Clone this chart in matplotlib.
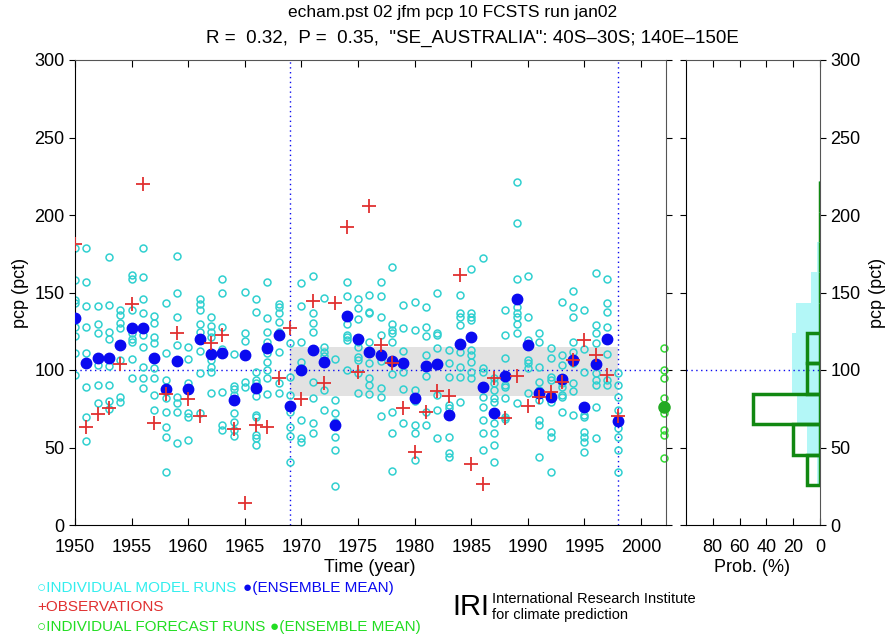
import matplotlib
matplotlib.use("Agg")
import matplotlib.pyplot as plt

plt.rcParams['font.family'] = ['Liberation Sans', 'DejaVu Sans']

# hindcast years
years = list(range(1950, 1999))

# individual model runs per year (pct of normal)
model_runs = [
    [179, 158, 145, 143, 128, 122, 111, 97],
    [178.5, 157, 141.5, 128, 110.7, 88.8, 70, 54.4],
    [141, 130, 124, 103, 90.3, 78.5],
    [173, 142, 124.7, 120, 102.5, 90.3, 80, 75],
    [138.7, 135.5, 130.5, 127, 106.4, 82.8, 79.5],
    [161.3, 159, 138.7, 124, 120, 118, 107, 94.6],
    [178.5, 160, 145.6, 136.5, 122.5, 115, 102, 94.6, 88.1],
    [134.8, 130.5, 121.5, 117.6, 101, 94.6, 83.8, 74.2],
    [143, 111.2, 93.5, 81.7, 73.1, 63.4, 56.5, 34.4],
    [173.5, 149.4, 134.4, 115.9, 82.8, 78.5, 73.1, 52.6],
    [114.6, 107, 91.4, 72, 69.9, 54.8],
    [145.6, 142.6, 138.7, 130, 124.7, 119.3, 112, 97.8, 72],
    [134.4, 128.4, 124.7, 121.5, 106.4, 102, 99, 85],
    [159, 149.4, 128, 113.3, 86, 64.5, 61.3],
    [110.3, 89.6, 87.5, 83.8, 72, 66.6, 61.3, 57.4],
    [150.5, 123.6, 118.9, 110, 92.5, 88.8],
    [145.6, 137.2, 99, 93.5, 91.4, 83.2, 71, 70, 58, 56, 51.6],
    [157, 133.3, 124.7, 118.2, 110.7, 105.4, 100, 94.6, 84.3],
    [142.6, 140.8, 136.5, 131.2, 124.7, 111.8, 91.4, 85.3],
    [117.2, 95.7, 83.8, 73.1, 63.4, 57.4, 40.8],
    [156, 141.3, 118.2, 105.4, 101, 67.7, 56, 53.7],
    [160.6, 137, 130.5, 124.7, 92.5, 81.7, 66, 59.5],
    [146.2, 114.6, 111.8, 109, 87, 74.2],
    [107, 80.6, 72, 66.6, 57, 48.3, 25.1],
    [157, 148, 129.4, 122.5, 121, 119.3, 100],
    [145.6, 139.8, 132.9, 118, 115, 108.6, 106.4, 98, 85.3],
    [148.4, 137.6, 136.5, 117.8, 111.8, 104.3, 94.6, 90.3, 84.5],
    [157, 147.7, 134.4, 122.5, 106, 88.1, 82.3, 70.3],
    [166.6, 129.6, 125.8, 124, 118.2, 97.4, 73.1, 59.1, 35],
    [141.9, 127, 112.4, 99, 87.5, 66],
    [144, 125.8, 87.1, 80.2, 64.5, 59.1, 41.9],
    [140.4, 127.9, 121.9, 109.6, 96.1, 73.1, 64.5],
    [149.4, 124, 122.5, 113.9, 104.3, 83.8, 74.2, 55.9],
    [112.9, 104.3, 95.7, 77.4, 75.2, 57, 46.2, 43.6],
    [148.4, 136.5, 134.4, 129, 111.8, 102.1, 95.7, 79.5],
    [165.1, 136.5, 134.4, 132.2, 112.9, 109.6, 105.4, 99, 94.6],
    [172, 101, 99, 82.8, 76.3, 67.7, 59.1, 48.3],
    [94.6, 91.4, 87.1, 81.7, 79.5, 65.6, 59.1, 51.6, 40.8],
    [138.7, 122.5, 107.5, 90.3, 88.8, 81.7, 69.9, 68.2],
    [221.5, 194.6, 158.5, 140.8, 136.5, 134.4, 130, 124, 78.5],
    [160.6, 134.4, 119.3, 106.4, 104.3, 101, 85.3],
    [123.6, 118.2, 102.1, 92.5, 87.1, 80.6, 67.7, 64.5, 44],
    [113.9, 107.5, 95.7, 93.5, 82.8, 79.5, 60.2, 57, 34.4],
    [143.6, 109.6, 103.4, 91.4, 89.2, 83.8, 82.8, 73.1],
    [151.1, 140.4, 134, 118.2, 111.8, 104.3, 91.8, 86.6, 71],
    [138.7, 113.3, 99, 71, 69.9, 60.2, 57, 53.7, 47.3],
    [162.3, 129, 123.6, 117.6, 97.8, 93.5, 90.3, 75.9, 55.9],
    [159, 143, 137.2, 127.5, 110.3, 93.5, 90.3],
    [97.8, 90.3, 82.8, 74.2, 62.3, 57, 48.3, 34.4],
]

ens_mean = [133.3, 104.3, 107.5, 107.5, 116, 126.8, 126.8, 108, 87.5, 106,
            88, 120, 110.3, 110.7, 80.6, 109.6, 88.6, 113.9, 122.5, 76.7,
            100, 112.9, 104.9, 64.3, 134.8, 120.2, 111.4, 109.6, 105.8, 104.3,
            81.9, 102.5, 103.8, 70.9, 116.7, 121, 89.2, 72, 96.1, 145.6,
            116.1, 85.3, 82.8, 94, 106.4, 76.3, 103.8, 120, 67.3]

observations = [181, 63, 71.4, 75.2, 103.6, 142.6, 220, 65.6, 84.3, 124,
                81, 70.3, 117.2, 122.5, 61.7, 14.4, 64.5, 63.4, 94.6, 127,
                81, 144.7, 91.4, 143, 192, 98.9, 205.8, 116.1, 104.3, 75.7,
                47.3, 72.6, 86.6, 83.4, 161.3, 39.3, 26.2, 94.6, 68.8, 96.3,
                76.7, 82.8, 86, 92.5, 106.4, 119.3, 109.6, 96.7, 70.5]

# forecast for 2002
fcst_year = 2002
fcst_runs = [113.9, 100, 94.6, 81.7, 75.9, 72, 61.3, 58, 43]
fcst_mean = 75.9

# tercile band over the verification period
band_years = [1969, 1998]
band_lo, band_hi = 83.2, 114.8

# histograms (percent per bin)
bin_edges = [25.8, 45.4, 65.0, 84.6, 104.2, 123.8, 143.4, 163.0, 182.6, 202.2, 221.8]
hist_model = [2, 10, 17, 21, 21, 18, 7, 2, 1, 1]
hist_fcst = [10, 20, 50, 10, 10, 0, 0, 0, 0, 0]

cyan = '#30d0d0'
blue = '#0a0af0'
red = '#e03030'
green = '#33dd33'

fig = plt.figure(figsize=(8.96, 6.36), dpi=100)
ax = fig.add_axes([75 / 896, 1 - 525 / 636, (666 - 75) / 896, 465 / 636])
axh = fig.add_axes([686 / 896, 1 - 525 / 636, (820 - 686) / 896, 465 / 636])

# main panel
ax.fill_between(band_years, band_lo, band_hi, color='#e2e2e2', lw=0, zorder=0)
ax.axhline(100, color=blue, ls=(0, (1, 2.5)), lw=1, zorder=1)
for yr in band_years:
    ax.axvline(yr, color=blue, ls=(0, (1, 2.5)), lw=1, zorder=1)

for yr, runs in zip(years, model_runs):
    ax.plot([yr] * len(runs), runs, 'o', ms=5, mfc='none', mec=cyan, mew=1.1, zorder=2)
ax.plot(years, ens_mean, 'o', ms=7.5, color=blue, mec=blue, zorder=3)
ax.plot(years, observations, '+', ms=10, mew=1.3, color=red, zorder=4)

ax.plot([fcst_year] * len(fcst_runs), fcst_runs, 'o', ms=5, mfc='none', mec=green,
        mew=1.1, zorder=2, clip_on=False)
ax.plot([fcst_year], [fcst_mean], 'o', ms=8, color='#22aa22', zorder=3, clip_on=False)

ax.set_xlim(1950, 2002.2)
ax.set_ylim(0, 300)
ax.set_xticks(range(1950, 2001, 5))
ax.set_yticks(range(0, 301, 50))
ax.tick_params(axis='x', direction='in', top=True, length=5, labelsize=13, pad=10)
ax.tick_params(axis='y', direction='out', right=True, length=4, labelsize=13)
for s in ['top', 'right']:
    ax.spines[s].set_color('#555555')
ax.set_ylabel('pcp (pct)', fontsize=13, labelpad=4)
fig.text(370 / 896, 1 - 567 / 636, 'Time (year)', ha='center', va='center', fontsize=13)

# histogram panel
lows = bin_edges[:-1]
heights = [b - a for a, b in zip(bin_edges[:-1], bin_edges[1:])]
axh.barh(lows, hist_model, height=heights, align='edge', color='#b3f7f7', lw=0, zorder=1)
axh.barh(lows, hist_fcst, height=heights, align='edge', fill=False,
         edgecolor='#118811', lw=2.5, zorder=3)
axh.axhline(100, color=blue, ls=(0, (1, 2.5)), lw=1, zorder=2)
axh.set_xlim(100, 0)
axh.set_ylim(0, 300)
axh.set_xticks([80, 60, 40, 20, 0])
axh.set_yticks(range(0, 301, 50))
axh.tick_params(axis='x', direction='in', top=True, length=5, labelsize=13, pad=10)
axh.tick_params(axis='y', direction='out', left=True, right=True, labelleft=False,
                labelright=True, length=4, labelsize=13)
axh.yaxis.set_label_position('right')
axh.set_ylabel('pcp (pct)', fontsize=13, labelpad=6)
fig.text(752 / 896, 1 - 567 / 636, 'Prob. (%)', ha='center', va='center', fontsize=13)
for s in ['top', 'right']:
    axh.spines[s].set_color('#555555')

# titles
fig.text(453 / 896, 1 - 12 / 636, 'echam.pst 02 jfm pcp 10 FCSTS run jan02',
         ha='center', va='center', fontsize=12.5)
fig.text(472 / 896, 1 - 38 / 636,
         'R =  0.32,  P =  0.35,  "SE_AUSTRALIA": 40S\u201330S; 140E\u2013150E',
         ha='center', va='center', fontsize=13.5)

# legend text
leg = dict(fontsize=11, va='center')
fig.text(37 / 896, 1 - 588 / 636, '\u25cbINDIVIDUAL MODEL RUNS', color='#33eeee', **leg)
fig.text(243 / 896, 1 - 588 / 636, '\u25cf(ENSEMBLE MEAN)', color=blue, **leg)
fig.text(37 / 896, 1 - 607 / 636, '+OBSERVATIONS', color=red, **leg)
fig.text(37 / 896, 1 - 627 / 636, '\u25cbINDIVIDUAL FORECAST RUNS', color='#22dd22', **leg)
fig.text(270 / 896, 1 - 627 / 636, '\u25cf(ENSEMBLE MEAN)', color='#22dd22', **leg)

fig.text(489 / 896, 1 - 607 / 636, 'IRI', fontsize=21, ha='right', va='center')
fig.text(492 / 896, 1 - 599 / 636, 'International Research Institute', fontsize=10.5, va='center')
fig.text(492 / 896, 1 - 615 / 636, 'for climate prediction', fontsize=10.5, va='center')

fig.savefig('out.png', dpi=100)
